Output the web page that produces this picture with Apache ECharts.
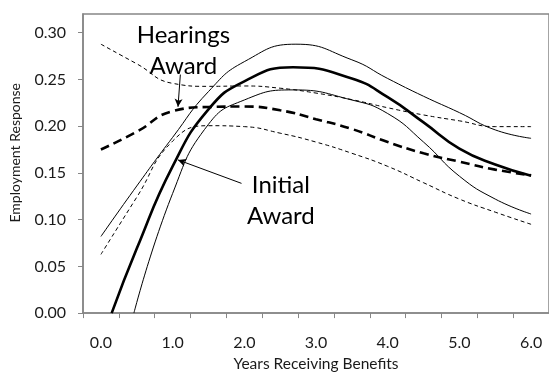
<!DOCTYPE html>
<html>
<head>
<meta charset="utf-8">
<script src="https://cdn.jsdelivr.net/npm/echarts@6/dist/echarts.min.js"></script>
<style>
html,body{margin:0;padding:0;background:#fff;}
#chart{width:549px;height:377px;}
</style>
</head>
<body>
<div id="chart"></div>
<script>
// ---- data ----
var years = [0, 0.5, 1, 1.5, 2, 2.5, 3, 3.5, 4, 4.5, 5, 5.5, 6];
var xTickLabels = ['0.0','0.5','1.0','1.5','2.0','2.5','3.0','3.5','4.0','4.5','5.0','5.5','6.0'];
var yTicks = [0, 0.05, 0.10, 0.15, 0.20, 0.25, 0.30];

// Initial award (solid): central estimate and confidence band
var initialMidYears = [0.15, 0.5, 1, 1.5, 2, 2.68, 3.5, 4, 4.5, 5, 5.5, 6];
var initialMid      = [0, 0.069, 0.157, 0.218, 0.248, 0.263, 0.251, 0.231, 0.204, 0.176, 0.159, 0.147];
var initialUpYears  = [0, 0.5, 1, 1.5, 2, 2.72, 3.5, 4, 4.5, 5, 5.5, 6];
var initialUpper    = [0.082, 0.136, 0.188, 0.237, 0.269, 0.2877, 0.271, 0.251, 0.232, 0.2145, 0.196, 0.187];
var initialLowYears = [0.46, 1, 1.5, 2, 2.68, 3.5, 4, 4.5, 5, 5.5, 6];
var initialLow      = [0, 0.128, 0.202, 0.228, 0.2388, 0.228, 0.2135, 0.183, 0.1465, 0.122, 0.106];

// Hearings award (dashed): central estimate and confidence band
var hearingsMid   = [0.175, 0.194, 0.216, 0.2205, 0.221, 0.217, 0.2075, 0.197, 0.183, 0.171, 0.162, 0.1535, 0.1475];
var hearingsUpper = [0.2877, 0.2667, 0.2458, 0.2426, 0.2430, 0.2406, 0.2354, 0.2284, 0.2197, 0.212, 0.2057, 0.1995, 0.1995];
var hearingsLow   = [0.0628, 0.124, 0.184, 0.2005, 0.1995, 0.1925, 0.183, 0.171, 0.157, 0.1395, 0.122, 0.108, 0.095];

// annotation anchors (data units)
var hearingsLabelAt = [1.15, 0.281];
var hearingsArrow = [[1.108, 0.2552], [1.075, 0.2207]];
var initialLabelAt = [2.51, 0.1200];
var initialArrow = [[1.961, 0.1388], [1.075, 0.1639]];

function pairs(xs, ys) { return xs.map(function (x, i) { return [x, ys[i]]; }); }

var FONT = 'Lato';
var chart = echarts.init(document.getElementById('chart'), null, {renderer: 'canvas'});

function lineSeries(name, data, width, type) {
  return {
    name: name, type: 'line', xAxisIndex: 1, yAxisIndex: 0,
    data: data, smooth: true, showSymbol: false, symbol: 'none',
    clip: true, silent: true,
    lineStyle: {color: '#000', width: width, type: type}
  };
}

var sHM = lineSeries('Hearings', pairs(years, hearingsMid), 2.6, [9, 5]);
sHM.markLine = {
  silent: true, symbol: ['none', 'arrow'], symbolSize: [6, 8],
  label: {show: false},
  lineStyle: {color: '#000', width: 1, type: 'solid'},
  data: [
    [{coord: hearingsArrow[0]}, {coord: hearingsArrow[1]}],
    [{coord: initialArrow[0]}, {coord: initialArrow[1]}]
  ]
};
sHM.markPoint = {
  silent: true, symbol: 'circle', symbolSize: 0,
  label: {show: true, position: 'inside', color: '#000', fontFamily: FONT, fontSize: 24, lineHeight: 31, align: 'center', verticalAlign: 'middle'},
  data: [
    {coord: hearingsLabelAt, value: 'Hearings\nAward', label: {formatter: 'Hearings\nAward'}},
    {coord: initialLabelAt, value: 'Initial\nAward', label: {formatter: 'Initial\nAward'}}
  ]
};

var option = {
  animation: false,
  backgroundColor: '#fff',
  grid: {left: 83, top: 14, width: 470, height: 306, show: true, borderColor: '#868686', borderWidth: 1.5, backgroundColor: 'transparent'},
  xAxis: [
    {
      type: 'category', data: xTickLabels, boundaryGap: true,
      position: 'bottom',
      axisLine: {onZero: false, lineStyle: {color: '#868686', width: 1.5}},
      axisTick: {show: true, interval: 0, length: 5, lineStyle: {color: '#868686', width: 1}},
      axisLabel: {interval: 1, margin: 22, color: '#1a1a1a', fontFamily: FONT, fontSize: 16},
      splitLine: {show: false},
      name: 'Years Receiving Benefits', nameLocation: 'middle', nameGap: 37,
      nameTextStyle: {color: '#1a1a1a', fontFamily: FONT, fontSize: 15.5}
    },
    {
      type: 'value', min: -0.25, max: 6.25, show: false
    }
  ],
  yAxis: [{
    type: 'value', min: 0, max: 0.32,
    axisLine: {show: true, onZero: false, lineStyle: {color: '#868686', width: 1.5}},
    axisTick: {show: true, length: 5, customValues: yTicks, lineStyle: {color: '#868686', width: 1}},
    axisLabel: {customValues: yTicks, margin: 17, color: '#1a1a1a', fontFamily: FONT, fontSize: 16,
      formatter: function (v) { return v.toFixed(2); }},
    splitLine: {show: false}
  }],
  graphic: [{
    type: 'text', left: 8, top: 83,
    style: {text: 'Employment Response', font: '14px ' + FONT, fill: '#1a1a1a'},
    rotation: Math.PI / 2, originX: 0, originY: 0
  }],
  series: [
    lineSeries('Initial', pairs(initialMidYears, initialMid), 2.6, 'solid'),
    lineSeries('Initial upper', pairs(initialUpYears, initialUpper), 1, 'solid'),
    lineSeries('Initial lower', pairs(initialLowYears, initialLow), 1, 'solid'),
    sHM,
    lineSeries('Hearings upper', pairs(years, hearingsUpper), 1, [4, 3]),
    lineSeries('Hearings lower', pairs(years, hearingsLow), 1, [4, 3])
  ]
};
chart.setOption(option);
</script>
</body>
</html>
